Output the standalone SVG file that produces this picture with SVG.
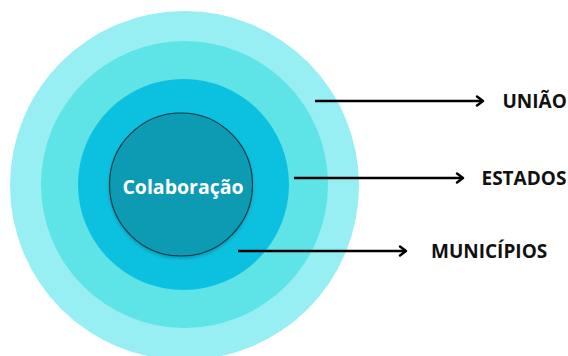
<svg xmlns="http://www.w3.org/2000/svg" width="568" height="356" viewBox="0 0 568 356">
  <defs>
    <style>
      .lbl { font-family: "Open Sans", "Liberation Sans", sans-serif; font-weight: 700; font-size: 19px; fill: #111111; }
      .core { font-family: "Open Sans", "Liberation Sans", sans-serif; font-weight: 700; font-size: 19.5px; fill: #ffffff; text-anchor: middle; }
      .conn { stroke: #000000; stroke-width: 2.6; fill: none; marker-end: url(#chev); }
    </style>
    <marker id="chev" viewBox="0 0 10 12" refX="8" refY="6" markerWidth="10" markerHeight="12" markerUnits="userSpaceOnUse" orient="auto">
      <path d="M2,1.5 L8,6 L2,10.5" fill="none" stroke="#000000" stroke-width="2.4" stroke-linecap="round" stroke-linejoin="round"/>
    </marker>
    <filter id="soft" x="-10%" y="-10%" width="120%" height="125%">
      <feDropShadow dx="0" dy="2" stdDeviation="1.5" flood-color="#000000" flood-opacity="0.2"/>
    </filter>
  </defs>
  <rect width="568" height="356" fill="#ffffff"/>

  <!-- concentric levels -->
  <g id="uniao-ring">
    <circle cx="184.5" cy="185.5" r="174.5" fill="#97eff4"/>
  </g>
  <g id="estados-ring">
    <circle cx="184.5" cy="184.5" r="143.5" fill="#5ee3e6"/>
  </g>
  <g id="municipios-ring">
    <circle cx="183.5" cy="184.5" r="105.5" fill="#0cc0df"/>
  </g>
  <g id="colaboracao">
    <circle cx="181" cy="184.5" r="71.5" fill="#0a9bb4" stroke="#0b3a44" stroke-width="1.2" filter="url(#soft)"/>
    <text class="core" x="183" y="193.5">Colaboração</text>
  </g>

  <!-- connectors -->
  <g id="connectors">
    <line class="conn" x1="315" y1="101" x2="483" y2="101"/>
    <line class="conn" x1="294" y1="178" x2="463" y2="178"/>
    <line class="conn" x1="238" y1="251" x2="406" y2="251"/>
  </g>

  <!-- labels -->
  <g id="label-uniao"><text class="lbl" x="502.5" y="107.5">UNIÃO</text></g>
  <g id="label-estados"><text class="lbl" x="481.5" y="185">ESTADOS</text></g>
  <g id="label-municipios"><text class="lbl" x="431" y="258">MUNICÍPIOS</text></g>
</svg>
